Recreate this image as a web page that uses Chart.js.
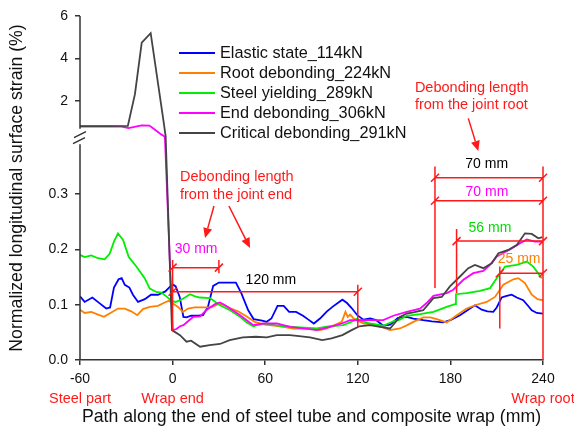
<!DOCTYPE html>
<html>
<head>
<meta charset="utf-8">
<script src="https://cdn.jsdelivr.net/npm/chart.js@4.4.1/dist/chart.umd.min.js"></script>
<style>
  html, body { margin: 0; padding: 0; background: #fff; }
  #wrap { width: 574px; height: 431px; }
</style>
</head>
<body>
<div id="wrap"><canvas id="strainChart" width="574" height="431"></canvas></div>
<script>
// path position (mm) and normalized strain (%) for each load stage
const elasticX = [-60,-57,-52,-47,-43,-40.5,-38,-35,-33,-31,-28,-25.7,-22.4,-18,-14,-9.5,-4.7,-1.2,0.5,2,4.6,7,9,12,16.5,19.7,22.9,26.3,30,36,41,44.5,49,52.5,58,61,64,68,72,75.5,80,84.5,88,91.5,95.5,100,104,110,113,116,119.7,123.6,128,132,136.5,141,146,151.7,156,162.4,168,175.4,180,186.2,191,195.9,200.3,204,207.8,210,213.2,216.5,219.7,223,227.2,230,232.7,236,240];
const elasticY = [0.115,0.105,0.113,0.102,0.093,0.095,0.131,0.146,0.148,0.136,0.131,0.118,0.105,0.110,0.118,0.118,0.124,0.134,0.136,0.133,0.114,0.078,0.077,0.080,0.080,0.081,0.096,0.134,0.140,0.140,0.140,0.121,0.090,0.074,0.071,0.069,0.075,0.098,0.098,0.087,0.087,0.080,0.073,0.066,0.075,0.088,0.097,0.109,0.103,0.094,0.081,0.073,0.075,0.072,0.062,0.064,0.076,0.078,0.075,0.072,0.070,0.068,0.072,0.081,0.090,0.099,0.091,0.088,0.087,0.095,0.113,0.116,0.118,0.113,0.108,0.099,0.090,0.085,0.084];

const rootX = [-60,-57,-52.7,-48.3,-44.5,-39.7,-35.4,-31,-26.8,-22.9,-19.2,-14.8,-9.5,-5.1,-2.5,0.3,3.5,6.7,10,14.3,18.6,25,29.4,32.7,37,42.4,47.8,53.2,59.7,66,72,78,86.9,95.5,100,103,109.6,112,113.5,115,117,119.3,124,130,136.5,140.9,147.3,152,156,162.4,167,171.1,177.6,184.1,190.5,195.9,203.5,208.9,214.3,220.8,224,228.3,232.7,236.5,240];
const rootY = [0.091,0.085,0.087,0.082,0.078,0.086,0.093,0.093,0.088,0.081,0.092,0.096,0.098,0.104,0.107,0.102,0.096,0.087,0.093,0.095,0.095,0.095,0.101,0.100,0.094,0.088,0.079,0.069,0.064,0.062,0.060,0.057,0.057,0.054,0.057,0.061,0.069,0.087,0.078,0.082,0.076,0.072,0.066,0.064,0.059,0.054,0.057,0.063,0.069,0.077,0.077,0.074,0.068,0.081,0.093,0.099,0.105,0.114,0.136,0.146,0.148,0.139,0.118,0.110,0.108];

const yieldX = [-60,-57,-52.7,-48.3,-44,-40.8,-38,-35.4,-32.1,-28.4,-23.5,-18.1,-14.8,-10.5,-7.3,-4.1,-0.6,2,4.8,8,11.3,14.5,17.8,24.2,30.7,37.2,43.7,48,52.3,56,60.9,66,71.7,82.5,93.4,102,110.6,115,119.3,123.5,127.9,136.5,143,147.3,151.7,160.3,169,177.6,183,183.6,190.5,199.2,205.7,210,215.4,223,229.5,233.7,236.5,239.2];
const yieldY = [0.190,0.186,0.189,0.184,0.182,0.192,0.214,0.229,0.217,0.186,0.169,0.148,0.129,0.123,0.122,0.115,0.107,0.105,0.108,0.113,0.119,0.115,0.113,0.112,0.099,0.090,0.078,0.068,0.061,0.064,0.066,0.063,0.061,0.059,0.057,0.061,0.063,0.068,0.074,0.070,0.066,0.062,0.070,0.073,0.080,0.083,0.087,0.096,0.101,0.119,0.121,0.125,0.130,0.148,0.169,0.172,0.178,0.169,0.158,0.148];

const endX = [-60,-50,-40,-33,-28.5,-24,-20,-15,-11.4,-8,-5,0,2.5,4.8,7,10,13.4,17.8,21,24.2,27.5,30.7,34,37.2,43.7,48,52.3,58.8,67.5,76.1,84.7,93.4,102,109.6,115,119.3,127.9,136.5,143,151.7,160.3,165,169,177.6,181.9,188.4,194.8,201.3,205,210,218.6,225.1,229.5,234.8,239.6];
const endY = [0.81,0.81,0.81,0.80,0.73,0.80,0.86,0.85,0.68,0.60,0.54,0.054,0.056,0.061,0.063,0.070,0.078,0.079,0.088,0.095,0.101,0.104,0.099,0.093,0.081,0.072,0.063,0.066,0.066,0.060,0.057,0.054,0.060,0.066,0.072,0.072,0.072,0.072,0.080,0.087,0.093,0.104,0.116,0.121,0.127,0.145,0.157,0.161,0.170,0.187,0.200,0.211,0.218,0.214,0.214];

const critX = [-60,-45,-29,-24.4,-20,-14.2,-6,-4.5,-0.4,4.8,9,12,17.8,24,30.7,37,45.5,54,61,67.5,76,82,89,97,103,110,116,121,127.9,134.4,140.9,147.3,151.7,156,162.4,169,174.4,179.7,186.2,191.6,195.9,201.3,206.8,211.1,217.5,223,228.3,232.7,237,239.6];
const critY = [0.83,0.83,0.84,2.33,4.75,5.19,1.12,0.55,0.054,0.045,0.033,0.035,0.024,0.027,0.029,0.036,0.041,0.042,0.041,0.045,0.045,0.043,0.041,0.036,0.039,0.045,0.054,0.061,0.063,0.060,0.057,0.078,0.084,0.086,0.090,0.112,0.114,0.133,0.151,0.166,0.172,0.166,0.175,0.193,0.199,0.208,0.229,0.228,0.220,0.222];

const seriesLabels = ['Elastic state_114kN', 'Root debonding_224kN', 'Steel yielding_289kN', 'End debonding_306kN', 'Critical debonding_291kN'];
const seriesColors = ['#0000ff', '#ff8000', '#00ee00', '#ff00ff', '#444444'];
const xTicks = [-60, 0, 60, 120, 180, 240];
const yTicks = [0, 0.1, 0.2, 0.3, 2, 4, 6];

// red dimension lines (mm, strain) and their length labels
const dimLines = [
  { x1: 0, x2: 30, y: 0.167, text: '30 mm', color: '#ff00ff', tx: 15.2, ty: 0.201 },
  { x1: 0, x2: 120, y: 0.1235, text: '120 mm', color: '#000000', tx: 63.7, ty: 0.145 },
  { x1: 170, x2: 240, y: 0.3297, text: '70 mm', color: '#000000', tx: 203.5, ty: 0.354 },
  { x1: 170, x2: 240, y: 0.288, text: '70 mm', color: '#ff00ff', tx: 203.7, ty: 0.304 },
  { x1: 184, x2: 240, y: 0.215, text: '56 mm', color: '#00dd00', tx: 205.6, ty: 0.238 },
  { x1: 212, x2: 240, y: 0.157, text: '25 mm', color: '#ff8000', tx: 224.5, ty: 0.183 }
];
// red vertical guides: [mm, from, to]
const guides = [[0, 0.052, 0.181], [30, 0.157, 0.181], [120, 0.060, 0.136], [240, 0, 0.350], [170, 0.130, 0.350], [184, 0.121, 0.237], [212, 0.057, 0.169]];
// red arrows: [from mm, from strain, to mm, to strain]
const arrows = [[26.8, 0.2785, 21, 0.2206], [36.5, 0.2785, 50.2, 0.2025], [191.6, 1.19, 198.1, 0.378]];
const notes = [
  { x: 4.8, y: 0.331, text: 'Debonding length' },
  { x: 4.8, y: 0.298, text: 'from the joint end' },
  { x: 157, y: 2.60, text: 'Debonding length' },
  { x: 157, y: 1.81, text: 'from the joint root' }
];
const placeLabels = [[-60, 'Steel part'], [0, 'Wrap end'], [240, 'Wrap root']];

const FONT = '"Liberation Sans", Arial, sans-serif';
const RED = '#ff1a1a';

// broken y axis: 0-0.39 below the break, 0.7-6 above it
const LOW_MAX = 0.39, HIGH_MIN = 0.7, LOW_FRAC = 0.627, HIGH_FRAC = 0.672;

class BrokenScale extends Chart.LinearScale {
  getPixelForValue(v) {
    let f;
    if (v <= LOW_MAX) f = v / LOW_MAX * LOW_FRAC;
    else if (v >= HIGH_MIN) f = HIGH_FRAC + (v - HIGH_MIN) / (this.max - HIGH_MIN) * (1 - HIGH_FRAC);
    else f = LOW_FRAC + (v - LOW_MAX) / (HIGH_MIN - LOW_MAX) * (HIGH_FRAC - LOW_FRAC);
    return this.bottom - f * (this.bottom - this.top);
  }
  getValueForPixel(p) {
    const f = (this.bottom - p) / (this.bottom - this.top);
    if (f <= LOW_FRAC) return f / LOW_FRAC * LOW_MAX;
    if (f >= HIGH_FRAC) return HIGH_MIN + (f - HIGH_FRAC) / (1 - HIGH_FRAC) * (this.max - HIGH_MIN);
    return LOW_MAX + (f - LOW_FRAC) / (HIGH_FRAC - LOW_FRAC) * (HIGH_MIN - LOW_MAX);
  }
}
BrokenScale.id = 'broken';
BrokenScale.defaults = Chart.LinearScale.defaults;
Chart.register(BrokenScale);

function toPoints(xs, ys) {
  return xs.map((x, i) => ({ x: x, y: ys[i] }));
}

const allX = [elasticX, rootX, yieldX, endX, critX];
const allY = [elasticY, rootY, yieldY, endY, critY];

const datasets = seriesLabels.map((label, i) => ({
  label: label,
  data: toPoints(allX[i], allY[i]),
  borderColor: seriesColors[i],
  borderWidth: 1.8,
  pointRadius: 0,
  tension: 0,
  fill: false,
  order: 5 - i
}));

function drawArrow(ctx, x0, y0, x1, y1) {
  const ang = Math.atan2(y1 - y0, x1 - x0), len = 10, half = 4.5;
  const bx = x1 - len * Math.cos(ang), by = y1 - len * Math.sin(ang);
  ctx.beginPath(); ctx.moveTo(x0, y0); ctx.lineTo(bx, by); ctx.stroke();
  ctx.beginPath();
  ctx.moveTo(x1, y1);
  ctx.lineTo(bx + half * Math.sin(ang), by - half * Math.cos(ang));
  ctx.lineTo(bx - half * Math.sin(ang), by + half * Math.cos(ang));
  ctx.closePath(); ctx.fill();
}

function slash(ctx, px, py) {
  ctx.moveTo(px - 4, py + 4);
  ctx.lineTo(px + 4, py - 4);
}

// y axis line in two pieces with the break marks
const brokenAxis = {
  id: 'brokenAxis',
  afterDraw(chart) {
    const { ctx, scales: { y }, chartArea: a } = chart;
    const yLow = y.getPixelForValue(LOW_MAX), yHigh = y.getPixelForValue(HIGH_MIN);
    const m = (yLow + yHigh) / 2;
    ctx.save();
    ctx.strokeStyle = '#333';
    ctx.lineWidth = 1.5;
    ctx.beginPath();
    ctx.moveTo(a.left, a.bottom); ctx.lineTo(a.left, yLow);
    ctx.moveTo(a.left, yHigh); ctx.lineTo(a.left, a.top);
    ctx.moveTo(a.left - 7, m + 7); ctx.lineTo(a.left + 5, m + 1);
    ctx.moveTo(a.left - 6, m + 1); ctx.lineTo(a.left + 6, m - 5);
    ctx.stroke();
    ctx.restore();
  }
};

// red markup, legend and place names
const markup = {
  id: 'markup',
  afterDatasetsDraw(chart) {
    const { ctx, scales: { x, y }, chartArea: a } = chart;
    ctx.save();
    ctx.strokeStyle = RED;
    ctx.fillStyle = RED;
    ctx.lineWidth = 1.5;

    ctx.beginPath();
    guides.forEach(g => {
      const px = x.getPixelForValue(g[0]);
      ctx.moveTo(px, y.getPixelForValue(g[1]));
      ctx.lineTo(px, y.getPixelForValue(g[2]));
    });
    dimLines.forEach(d => {
      const py = y.getPixelForValue(d.y);
      const p1 = x.getPixelForValue(d.x1), p2 = x.getPixelForValue(d.x2);
      ctx.moveTo(p1, py); ctx.lineTo(p2, py);
      slash(ctx, p1, py);
      slash(ctx, p2, py);
    });
    ctx.stroke();

    arrows.forEach(r => drawArrow(ctx, x.getPixelForValue(r[0]), y.getPixelForValue(r[1]), x.getPixelForValue(r[2]), y.getPixelForValue(r[3])));

    ctx.font = '14px ' + FONT;
    ctx.textBaseline = 'middle';
    ctx.textAlign = 'center';
    dimLines.forEach(d => {
      ctx.fillStyle = d.color;
      ctx.fillText(d.text, x.getPixelForValue(d.tx), y.getPixelForValue(d.ty));
    });

    ctx.fillStyle = RED;
    ctx.font = '14.5px ' + FONT;
    ctx.textAlign = 'left';
    notes.forEach(n => ctx.fillText(n.text, x.getPixelForValue(n.x), y.getPixelForValue(n.y)));

    ctx.textAlign = 'center';
    placeLabels.forEach(p => ctx.fillText(p[1], x.getPixelForValue(p[0]), 399));

    // legend
    ctx.font = '16.3px ' + FONT;
    ctx.textAlign = 'left';
    seriesLabels.forEach((label, i) => {
      const ly = 53 + i * 20;
      ctx.strokeStyle = seriesColors[i];
      ctx.lineWidth = 2;
      ctx.beginPath();
      ctx.moveTo(a.left + 99, ly); ctx.lineTo(a.left + 135, ly);
      ctx.stroke();
      ctx.fillStyle = '#111';
      ctx.fillText(label, a.left + 140, ly + 1);
    });
    ctx.restore();
  }
};

new Chart(document.getElementById('strainChart'), {
  type: 'line',
  data: { datasets: datasets },
  options: {
    responsive: false,
    animation: false,
    devicePixelRatio: 1,
    layout: { padding: { top: 16, right: 31, left: 0, bottom: 0 } },
    plugins: {
      legend: { display: false },
      tooltip: { enabled: false }
    },
    scales: {
      x: {
        type: 'linear',
        min: -60,
        max: 240,
        afterBuildTicks: s => { s.ticks = xTicks.map(v => ({ value: v })); },
        afterFit: s => { s.height = 71; },
        border: { display: true, color: '#333', width: 1.5 },
        grid: { drawOnChartArea: false, drawTicks: true, tickLength: 5, color: '#333', lineWidth: 1.5 },
        ticks: { padding: 6, color: '#111', font: { family: FONT, size: 14 } },
        title: {
          display: true,
          text: 'Path along the end of steel tube and composite wrap (mm)',
          color: '#111',
          font: { family: FONT, size: 17.7 },
          padding: { top: 0, bottom: 3 }
        }
      },
      y: {
        type: 'broken',
        min: 0,
        max: 6,
        afterBuildTicks: s => { s.ticks = yTicks.map(v => ({ value: v })); },
        afterFit: s => { s.width = 80; },
        border: { display: false },
        grid: { drawOnChartArea: false, drawTicks: true, tickLength: 5, color: '#333', lineWidth: 1.5 },
        ticks: {
          padding: 7,
          autoSkip: false,
          color: '#111',
          font: { family: FONT, size: 14 },
          callback: v => v < 1 ? v.toFixed(1) : String(v)
        },
        title: {
          display: true,
          text: 'Normalized longitudinal surface strain (%)',
          color: '#111',
          font: { family: FONT, size: 17.7 },
          padding: { top: 6, bottom: 0 }
        }
      }
    }
  },
  plugins: [brokenAxis, markup]
});
</script>
</body>
</html>
